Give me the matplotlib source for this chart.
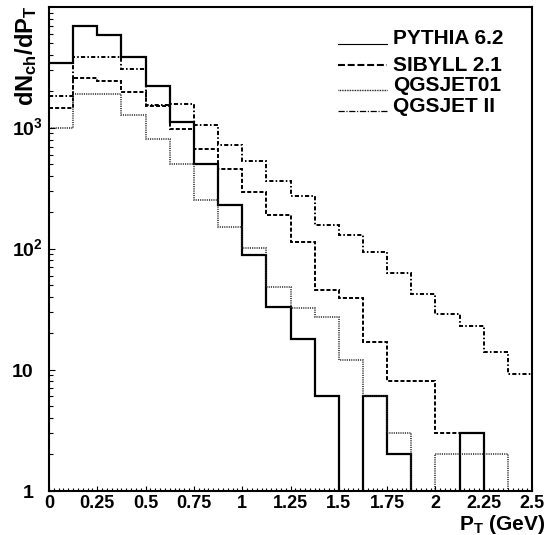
import numpy as np
import matplotlib
matplotlib.use('Agg')
import matplotlib.pyplot as plt
import matplotlib.transforms as mtransforms
from matplotlib.lines import Line2D
from matplotlib.ticker import MultipleLocator, LogLocator, NullFormatter

# ---- data (counts per 0.125 GeV bin) ----
pt_edges = np.linspace(0.0, 2.5, 21)
pythia = [3450, 6900, 5860, 3830, 2200, 1110, 500, 232, 88, 33,
          18, 6, 0, 6, 2, 0, 0, 3, 0, 0]
sibyll = [1465, 2590, 2440, 1990, 1510, 985, 672, 458, 295, 189,
          113, 46, 39, 17, 8, 8, 3, 0, 0, 0]
qgsjet01 = [995, 1890, 1900, 1287, 802, 498, 252, 152, 102, 48.5,
            32.5, 27.4, 12, 6, 3, 0, 2, 2, 2, 0]
qgsjet2 = [1828, 3830, 3830, 3060, 1550, 1570, 1061, 726, 531, 363,
           272, 157, 129, 94, 63, 42, 29, 23, 14, 9.2]
model_names = ['PYTHIA 6.2', 'SIBYLL 2.1', 'QGSJET01', 'QGSJET II']
x_ticks = np.arange(0, 2.51, 0.25)
y_decades = [1, 10, 100, 1000]
y_labels = ['1', '10', r'$10^{2}$', r'$10^{3}$']

# ---- style ----
plt.rcParams['font.family'] = ['Liberation Sans', 'DejaVu Sans']
plt.rcParams['font.weight'] = 'bold'
plt.rcParams['mathtext.fontset'] = 'custom'
plt.rcParams['mathtext.rm'] = 'Liberation Sans:bold'
plt.rcParams['mathtext.bf'] = 'Liberation Sans:bold'
plt.rcParams['mathtext.it'] = 'Liberation Sans:bold'
plt.rcParams['mathtext.default'] = 'rm'
plt.rcParams['lines.scale_dashes'] = False

styles = [
    dict(color='black', lw=1.6, linestyle='-'),
    dict(color='black', lw=1.4, linestyle=(0, (2.9, 1.5))),
    dict(color='#222222', lw=1.1, linestyle=(0, (0.8, 0.8))),
    dict(color='black', lw=1.4, linestyle=(0, (3.0, 1.6, 1.1, 1.6))),
]

W, H = 548, 535
fig = plt.figure(figsize=(W / 100, H / 100), dpi=100)
ax = fig.add_axes([49 / W, 1 - 490.5 / H, (532 - 49) / W, (490.5 - 7) / H])

for vals, st in zip([pythia, sibyll, qgsjet01, qgsjet2], styles):
    ax.stairs(vals, pt_edges, baseline=None, **st)

ax.set_yscale('log')
ax.set_xlim(0, 2.5)
ax.set_ylim(1, 1e4)

for s in ax.spines.values():
    s.set_linewidth(1.5)

ax.set_xticks(x_ticks, [f'{t:g}' for t in x_ticks])
ax.xaxis.set_minor_locator(MultipleLocator(0.025))
ax.set_yticks(y_decades, [''] * len(y_decades))
ax.yaxis.set_minor_locator(LogLocator(base=10, subs=np.arange(2, 10)))
ax.yaxis.set_minor_formatter(NullFormatter())
ax.tick_params(axis='both', which='both', direction='in', top=False, right=False, width=0.8)
ax.tick_params(axis='x', which='major', length=3.6, labelsize=13, pad=3)
ax.tick_params(axis='x', which='minor', length=1.9)
ax.tick_params(axis='y', which='major', length=4.3)
ax.tick_params(axis='y', which='minor', length=2.9)

# y tick labels, ROOT style placement
trans = mtransforms.blended_transform_factory(fig.transFigure, ax.transData)
trans = mtransforms.offset_copy(trans, fig=fig, y=-7, units='dots')
for v, lab in zip(y_decades, y_labels):
    if lab == '1':
        ax.text(28 / W, v, lab, transform=trans, ha='center', va='baseline', fontsize=14)
    else:
        ax.text(11.5 / W, v, lab, transform=trans, ha='left', va='baseline', fontsize=14)

# axis titles
fig.text(26 / W, 1 - 5 / H, r'$dN_{ch}/dP_{T}$', rotation=90, ha='center', va='top', fontsize=17)
fig.text(545 / W, 1 - 529.5 / H, r'$P_{T}$ (GeV)', ha='right', va='baseline', fontsize=15)

# hand-made legend
leg_base = [44.3, 71.0, 91.0, 111.5]
leg_line_y = [44.3, 64.5, 89.5, 111.0]
leg_styles = [
    dict(color='black', lw=0.8, linestyle='-'),
    dict(color='black', lw=1.5, linestyle=(0, (5.0, 2.0))),
    dict(color='black', lw=1.0, linestyle=(0, (0.6, 0.6))),
    dict(color='black', lw=0.9, linestyle=(0, (4.5, 1.2, 0.8, 1.2))),
]
for name, yb, yl, st in zip(model_names, leg_base, leg_line_y, leg_styles):
    fig.add_artist(Line2D([338 / W, 387 / W], [1 - yl / H, 1 - yl / H],
                          transform=fig.transFigure, **st))
    fig.text(393 / W, 1 - yb / H, name, ha='left', va='baseline', fontsize=15)

fig.savefig('out.png', dpi=100, facecolor='white')
